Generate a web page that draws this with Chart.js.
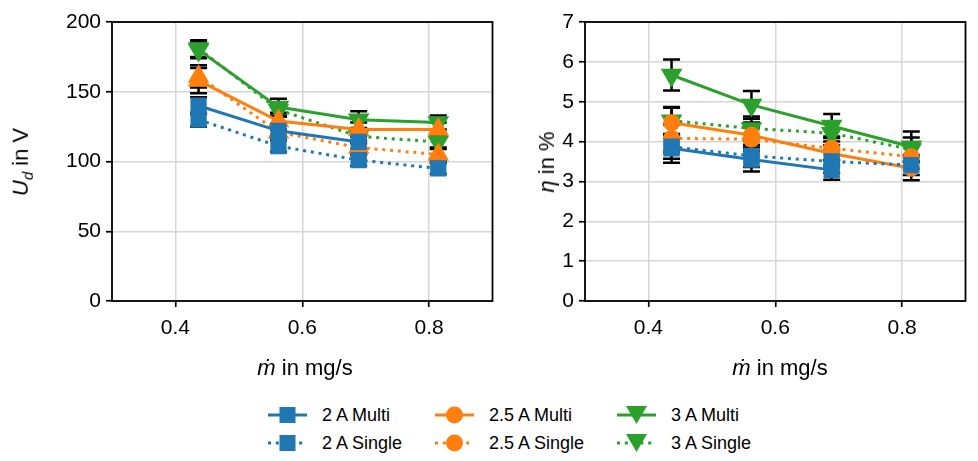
<!DOCTYPE html>
<html>
<head>
<meta charset="utf-8">
<script src="https://cdn.jsdelivr.net/npm/chart.js@4"></script>
<style>
  body { margin: 0; background: #fff; width: 978px; height: 461px; overflow: hidden; position: relative;
         font-family: "Liberation Sans", Arial, sans-serif; color: #000; }
  canvas { position: absolute; top: 0; }
  .ttl { position: absolute; font-size: 22px; white-space: nowrap; color: #000; }
  .ttl sub { font-size: 15px; }
  .leg { position: absolute; font-size: 18px; display: flex; align-items: center; white-space: nowrap; color: #000; }
  .leg svg { margin-right: 15px; }
</style>
</head>
<body>
<canvas id="ud" width="505" height="390" style="left:0px"></canvas>
<canvas id="eta" width="478" height="390" style="left:500px"></canvas>

<div class="ttl" style="left:22px;top:162px;transform:translate(-50%,-50%) rotate(-90deg)"><i>U</i><sub><i>d</i></sub> in V</div>
<div class="ttl" style="left:305px;top:368px;transform:translate(-50%,-50%)"><i>ṁ</i> in mg/s</div>
<div class="ttl" style="left:547px;top:162px;transform:translate(-50%,-50%) rotate(-90deg)"><i>η</i> in %</div>
<div class="ttl" style="left:780px;top:368px;transform:translate(-50%,-50%)"><i>ṁ</i> in mg/s</div>

<div id="legend"></div>

<script>
// mass flow in mg/s, shared by every series
var massFlow = [0.4365, 0.5625, 0.689, 0.8145];
var xTicks = [0.4, 0.6, 0.8];

// discharge voltage U_d in V
var udMulti2 = [140, 122, 114];
var udSingle2 = [130, 111, 101, 95];
var udMulti25 = [158, 129, 123, 123];
var udSingle25 = [161, 121, 110, 105];
var udMulti3 = [180, 139, 130, 128];
var udSingle3 = [181, 137, 118, 114];

var udMulti2Err = [6, 5, 5];
var udSingle2Err = [5, 4, 4, 4];
var udMulti25Err = [9, 6, 5, 5];
var udSingle25Err = [8, 5, 5, 5];
var udMulti3Err = [6, 6, 6, 5];
var udSingle3Err = [6, 5, 5, 5];

// efficiency eta in %
var etaMulti2 = [3.83, 3.55, 3.29];
var etaSingle2 = [3.87, 3.64, 3.50, 3.41];
var etaMulti25 = [4.47, 4.16, 3.70, 3.33];
var etaSingle25 = [4.08, 4.06, 3.83, 3.62];
var etaMulti3 = [5.67, 4.92, 4.39, 3.87];
var etaSingle3 = [4.52, 4.33, 4.21, 3.80];

var etaMulti2Err = [0.36, 0.3, 0.25];
var etaSingle2Err = [0.3, 0.28, 0.28, 0.25];
var etaMulti25Err = [0.38, 0.32, 0.3, 0.3];
var etaSingle25Err = [0.35, 0.3, 0.3, 0.3];
var etaMulti3Err = [0.39, 0.35, 0.3, 0.38];
var etaSingle3Err = [0.35, 0.3, 0.3, 0.3];

var labels = ['2 A Multi', '2 A Single', '2.5 A Multi', '2.5 A Single', '3 A Multi', '3 A Single'];
var colors = ['#1f77b4', '#1f77b4', '#ff7f0e', '#ff7f0e', '#2ca02c', '#2ca02c'];
var dotted = [false, true, false, true, false, true];

var tickFont = { family: '"Liberation Sans", Arial, sans-serif', size: 21 };

function pts(vals) {
  return vals.map(function (v, i) { return { x: massFlow[i], y: v }; });
}

function makeSets(values, errors, styles) {
  return values.map(function (vals, i) {
    var st = styles[i];
    return {
      label: labels[i],
      data: pts(vals),
      errors: errors[i],
      borderColor: colors[i],
      backgroundColor: colors[i],
      borderWidth: 3,
      borderDash: dotted[i] ? [3, 4.8] : [],
      pointStyle: st.shape,
      pointRotation: st.rot || 0,
      pointRadius: st.r,
      pointBorderWidth: 0,
      tension: 0
    };
  });
}

var errorBars = {
  id: 'errorBars',
  beforeDatasetsDraw: function (chart) {
    var ctx = chart.ctx, ys = chart.scales.y;
    ctx.save();
    ctx.strokeStyle = '#000';
    ctx.lineWidth = 2.5;
    chart.data.datasets.forEach(function (ds, i) {
      var meta = chart.getDatasetMeta(i);
      meta.data.forEach(function (el, j) {
        var v = ds.data[j].y, e = ds.errors[j];
        var t = ys.getPixelForValue(v + e), b = ys.getPixelForValue(v - e);
        ctx.beginPath();
        ctx.moveTo(el.x, t); ctx.lineTo(el.x, b);
        ctx.moveTo(el.x - 8.5, t); ctx.lineTo(el.x + 8.5, t);
        ctx.moveTo(el.x - 8.5, b); ctx.lineTo(el.x + 8.5, b);
        ctx.stroke();
      });
    });
    ctx.restore();
  }
};

var frame = {
  id: 'frame',
  afterDatasetsDraw: function (chart) {
    var a = chart.chartArea, ctx = chart.ctx;
    ctx.save();
    ctx.strokeStyle = '#000';
    ctx.lineWidth = 1.8;
    ctx.strokeRect(a.left, a.top, a.right - a.left, a.bottom - a.top);
    ctx.restore();
  }
};

function axisGrid() {
  return { color: '#d6d6d6', lineWidth: 1.5, tickColor: '#000', tickWidth: 1.7, tickLength: 6 };
}

function makeChart(id, sets, yMax, yStep, yWidth, padRight) {
  return new Chart(document.getElementById(id).getContext('2d'), {
    type: 'line',
    data: { datasets: sets },
    options: {
      responsive: false,
      animation: false,
      layout: { padding: { top: 22, right: padRight, left: 0, bottom: 0 } },
      plugins: { legend: { display: false }, tooltip: { enabled: false } },
      scales: {
        x: {
          type: 'linear', min: 0.3, max: 0.9,
          afterBuildTicks: function (s) { s.ticks = xTicks.map(function (v) { return { value: v }; }); },
          afterFit: function (s) { s.height = 89; },
          grid: axisGrid(),
          border: { display: false },
          ticks: { font: tickFont, color: '#000', padding: 9, maxRotation: 0,
                   callback: function (v) { return v.toFixed(1); } }
        },
        y: {
          min: 0, max: yMax,
          afterFit: function (s) { s.width = yWidth; },
          grid: axisGrid(),
          border: { display: false },
          ticks: { font: tickFont, color: '#000', padding: 5, stepSize: yStep }
        }
      }
    },
    plugins: [errorBars, frame]
  });
}

var udStyles = [
  { shape: 'rect', r: 11.5 }, { shape: 'rect', r: 11.5 },
  { shape: 'triangle', r: 12.5 }, { shape: 'triangle', r: 12.5 },
  { shape: 'triangle', r: 12.5, rot: 180 }, { shape: 'triangle', r: 12.5, rot: 180 }
];
var etaStyles = [
  { shape: 'rect', r: 11.5 }, { shape: 'rect', r: 11.5 },
  { shape: 'circle', r: 8.5 }, { shape: 'circle', r: 8.5 },
  { shape: 'triangle', r: 12.5, rot: 180 }, { shape: 'triangle', r: 12.5, rot: 180 }
];

makeChart('ud', makeSets(
  [udMulti2, udSingle2, udMulti25, udSingle25, udMulti3, udSingle3],
  [udMulti2Err, udSingle2Err, udMulti25Err, udSingle25Err, udMulti3Err, udSingle3Err],
  udStyles), 200, 50, 112, 6);

makeChart('eta', makeSets(
  [etaMulti2, etaSingle2, etaMulti25, etaSingle25, etaMulti3, etaSingle3],
  [etaMulti2Err, etaSingle2Err, etaMulti25Err, etaSingle25Err, etaMulti3Err, etaSingle3Err],
  etaStyles), 7, 1, 85, 5);

// legend: line sample with marker, then the label
var legX = [268, 435, 617];
var legY = [415, 443];
var legMarks = ['rect', 'circle', 'tri'];
var legend = document.getElementById('legend');
labels.forEach(function (lab, i) {
  var col = Math.floor(i / 2), row = i % 2, c = colors[i];
  var dash = dotted[i] ? ' stroke-dasharray="3 4.8"' : '';
  var mark;
  if (legMarks[col] === 'rect') mark = '<rect x="11.5" y="3" width="16" height="16" fill="' + c + '"/>';
  else if (legMarks[col] === 'circle') mark = '<circle cx="19.5" cy="11" r="8.5" fill="' + c + '"/>';
  else mark = '<polygon points="9,2 30,2 19.5,20" fill="' + c + '"/>';
  var d = document.createElement('div');
  d.className = 'leg';
  d.style.left = legX[col] + 'px';
  d.style.top = (legY[row] - 11) + 'px';
  d.innerHTML = '<svg width="39" height="22"><line x1="0" y1="11" x2="39" y2="11" stroke="' + c +
    '" stroke-width="3"' + dash + '/>' + mark + '</svg><span>' + lab + '</span>';
  legend.appendChild(d);
});
</script>
</body>
</html>
